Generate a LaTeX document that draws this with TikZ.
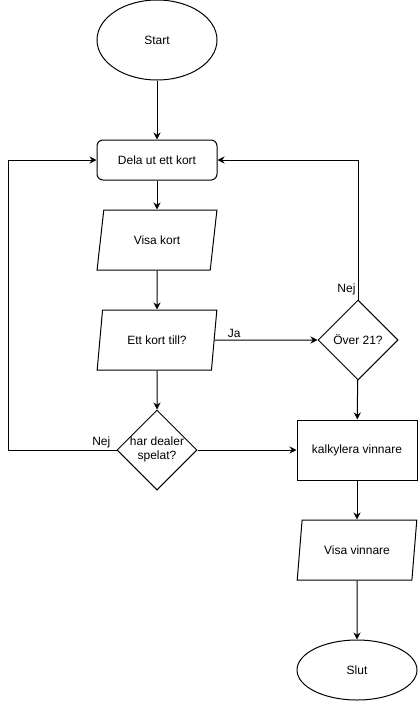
\documentclass[tikz,border=0pt]{standalone}
\usepackage{fontspec}
\setmainfont{Liberation Sans}
\usetikzlibrary{shapes.geometric,arrows.meta}
\begin{document}
\begin{tikzpicture}[x=1pt,y=-1pt,
  every node/.style={font=\fontsize{12}{14}\selectfont},
  base/.style={draw, line width=1pt, inner sep=0pt, align=center},
  term/.style={base, ellipse, minimum width=120, minimum height=80},
  proc/.style={base, rectangle, minimum width=120, minimum height=40, rounded corners=6},
  box/.style={base, rectangle, minimum width=120, minimum height=60},
  io/.style={base, trapezium, trapezium left angle=71.57, trapezium right angle=108.43,
             trapezium stretches=true, minimum width=120, minimum height=60},
  dia/.style={base, diamond, minimum width=80, minimum height=80, aspect=1},
  arr/.style={line width=1pt, -{Stealth[length=7pt,width=7pt]}},
  lbl/.style={inner sep=2pt, font=\fontsize{12}{14}\selectfont}
]
\useasboundingbox (0,0) rectangle (418,701);
\node[term] (start) at (157,40) {Start};
\node[proc] (dela) at (157,160) {Dela ut ett kort};
\node[io] (visa) at (157,240) {Visa kort};
\node[io] (ett) at (157,340) {Ett kort till?};
\node[dia] (o21) at (358,340) {Över 21?};
\node[dia] (hd) at (157,450) {\makebox[0pt]{\begin{tabular}{@{}c@{}}har dealer\\spelat?\end{tabular}}};
\node[box] (kalk) at (357,450) {kalkylera vinnare};
\node[io] (vv) at (357,550) {Visa vinnare};
\node[term, minimum height=60] (slut) at (357,670) {Slut};
\coordinate (lc) at (8,450);

\draw[arr] (start) -- (dela);
\draw[arr] (dela) -- (visa);
\draw[arr] (visa) -- (ett);
\draw[arr] (ett) -- (hd);
\draw[arr] (ett) -- node[lbl, pos=0.19, above] {Ja} (o21);
\draw[arr] (o21.north) |- node[lbl, pos=0.036, left] {Nej} (dela.east);
\draw[arr] (o21) -- (kalk);
\draw[arr] (hd.west) -- node[lbl, pos=0.14, above] {Nej} (lc) |- (dela.west);
\draw[arr] (hd) -- (kalk);
\draw[arr] (kalk) -- (vv);
\draw[arr] (vv) -- (slut);
\end{tikzpicture}
\end{document}
